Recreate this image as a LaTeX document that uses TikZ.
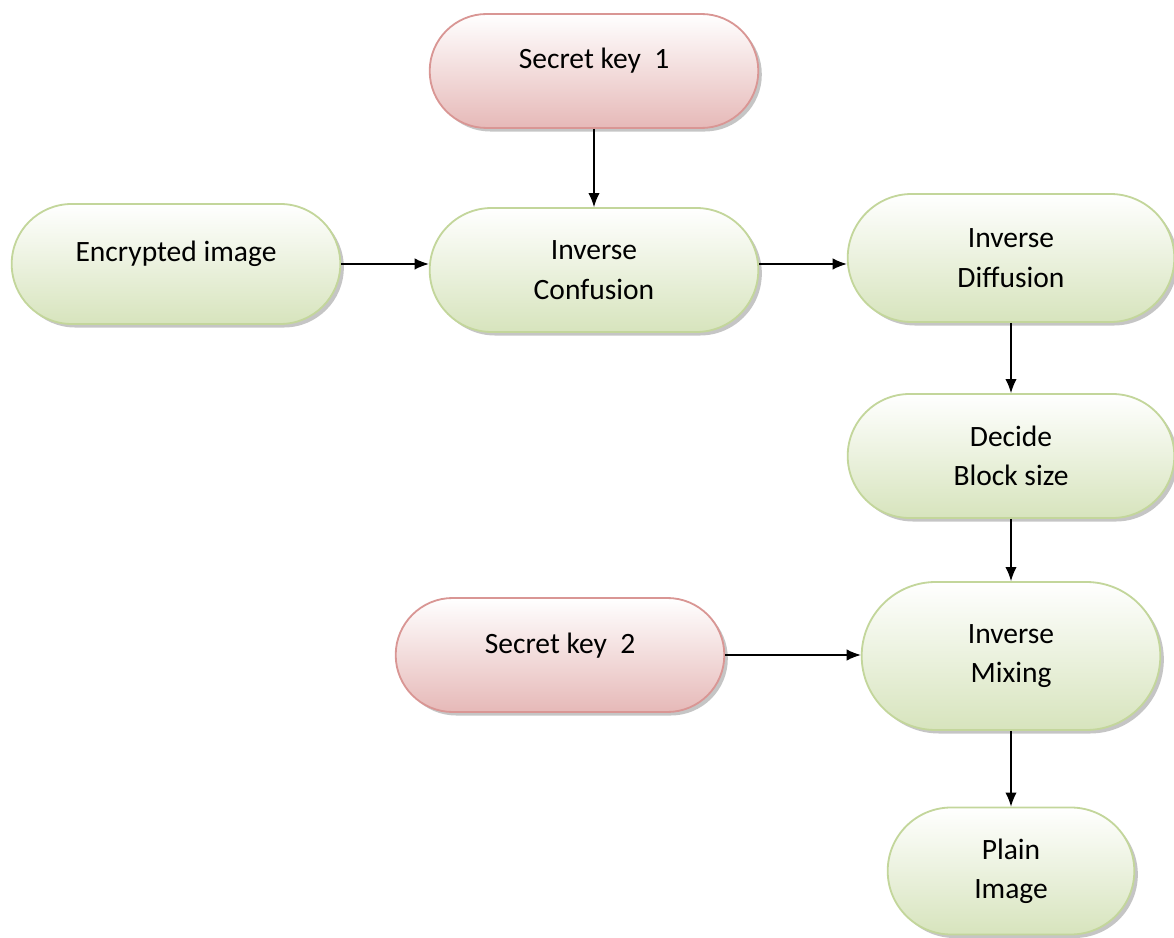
\documentclass[tikz,border=0pt]{standalone}
\usepackage{fontspec}
\setmainfont{Carlito}
\usetikzlibrary{positioning, calc, arrows.meta, shadows, shapes.misc}
\definecolor{GreenEdge}{HTML}{C3D69B}
\definecolor{GreenFill}{HTML}{D7E4BD}
\definecolor{RedEdge}{HTML}{D99694}
\definecolor{RedFill}{HTML}{E6B9B8}
\tikzset{
    pill/.style={rounded rectangle, line width=1.3pt, align=center,
        font=\fontsize{21}{28}\selectfont, text=black,
        drop shadow={shadow xshift=2.5pt, shadow yshift=-2.5pt, fill=black!45}},
    greenpill/.style={pill, draw=GreenEdge, top color=white, bottom color=GreenFill},
    redpill/.style={pill, draw=RedEdge, top color=white, bottom color=RedFill},
    oneline/.style={text depth=0.6cm, text height=0.5cm},
    arrow/.style={-{Latex[length=10pt,width=8pt]}, line width=0.8pt, color=black},
}
\begin{document}
\begin{tikzpicture}
    \useasboundingbox (0,0) rectangle (29.35,-23.45);

    % Chiavi segrete
    \node[redpill, oneline, minimum width=8.45cm, minimum height=2.85cm] (key1) at (14.85,-1.775) {Secret key~ 1};
    \node[redpill, oneline, minimum width=8.45cm, minimum height=2.85cm] (key2) at (14.0,-16.375) {Secret key~ 2};

    % Blocchi di decifratura
    \node[greenpill, oneline, minimum width=8.45cm, minimum height=3.0cm] (enc) at (4.4,-6.6) {Encrypted image};
    \node[greenpill, minimum width=8.45cm, minimum height=3.1cm] (conf) at (14.85,-6.75) {Inverse\\Confusion};
    \node[greenpill, minimum width=8.4cm, minimum height=3.2cm] (diff) at (25.275,-6.45) {Inverse\\Diffusion};
    \node[greenpill, minimum width=8.4cm, minimum height=3.1cm] (block) at (25.275,-11.4) {Decide\\Block size};
    \node[greenpill, minimum width=7.7cm, minimum height=3.7cm] (mix) at (25.275,-16.4) {Inverse\\Mixing};
    \node[greenpill, minimum width=6.4cm, minimum height=3.175cm] (plain) at (25.275,-21.775) {Plain\\Image};

    % Frecce
    \draw[arrow] (key1.south) -- (conf.north);
    \draw[arrow] (enc.east) -- (enc.east -| conf.west);
    \draw[arrow] (conf.east |- enc.east) -- (conf.east |- enc.east -| diff.west);
    \draw[arrow] (diff.south) -- (block.north);
    \draw[arrow] (block.south) -- (mix.north);
    \draw[arrow] (key2.east) -- (key2.east -| mix.west);
    \draw[arrow] (mix.south) -- (plain.north);

\end{tikzpicture}
\end{document}
